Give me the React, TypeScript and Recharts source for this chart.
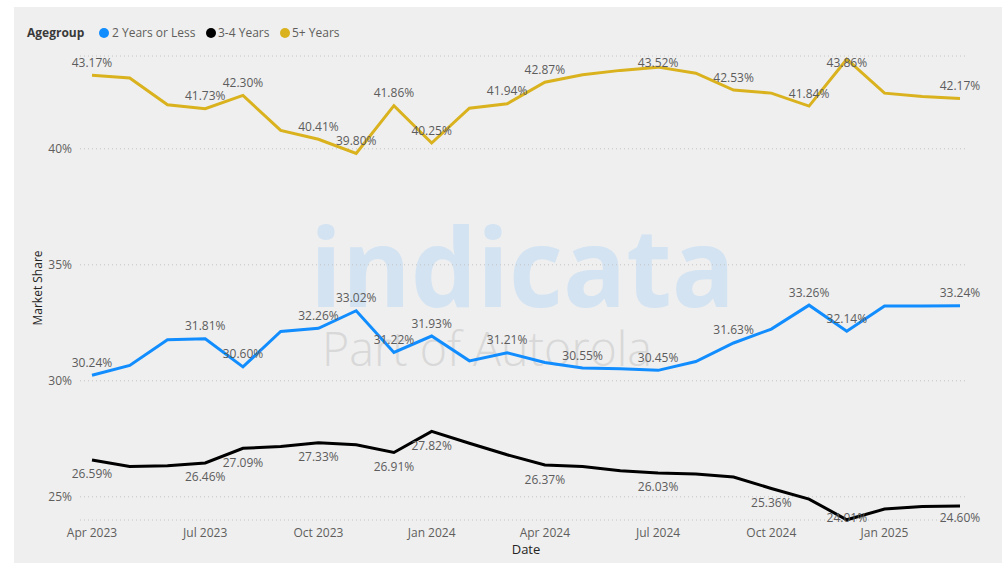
import React from 'react';
import { LineChart, Line, XAxis, YAxis, CartesianGrid, LabelList } from 'recharts';

const months = [
  'Apr 2023', 'May 2023', 'Jun 2023', 'Jul 2023', 'Aug 2023', 'Sep 2023',
  'Oct 2023', 'Nov 2023', 'Dec 2023', 'Jan 2024', 'Feb 2024', 'Mar 2024',
  'Apr 2024', 'May 2024', 'Jun 2024', 'Jul 2024', 'Aug 2024', 'Sep 2024',
  'Oct 2024', 'Nov 2024', 'Dec 2024', 'Jan 2025', 'Feb 2025', 'Mar 2025',
];

const upTo2Years = [
  30.24, 30.66, 31.77, 31.81, 30.6, 32.13, 32.26, 33.02, 31.22, 31.93, 30.86, 31.21,
  30.79, 30.55, 30.52, 30.45, 30.83, 31.63, 32.23, 33.26, 32.14, 33.22, 33.22, 33.24,
];

const threeTo4Years = [
  26.59, 26.31, 26.34, 26.46, 27.09, 27.17, 27.33, 27.24, 26.91, 27.82, 27.31, 26.81,
  26.37, 26.31, 26.12, 26.03, 25.98, 25.85, 25.36, 24.9, 24.01, 24.47, 24.58, 24.6,
];

const fivePlusYears = [
  43.17, 43.05, 41.9, 41.73, 42.3, 40.79, 40.41, 39.8, 41.86, 40.25, 41.75, 41.94,
  42.87, 43.19, 43.38, 43.52, 43.26, 42.53, 42.4, 41.84, 43.86, 42.4, 42.25, 42.17,
];

// which points carry a data label in the original
const upTo2Labelled = [0, 3, 4, 6, 7, 8, 9, 11, 13, 15, 17, 19, 20, 23];
const threeTo4Labelled = [0, 3, 4, 6, 8, 9, 12, 15, 18, 20, 23];
const fivePlusLabelled = [0, 3, 4, 6, 7, 8, 9, 11, 12, 15, 17, 19, 20, 23];

const yTicks = [25, 30, 35, 40];

const data = months.map((m, i) => ({
  month: m,
  upTo2: upTo2Years[i],
  threeTo4: threeTo4Years[i],
  fivePlus: fivePlusYears[i],
}));

const FONT = "'Open Sans', 'Noto Sans', 'DejaVu Sans', sans-serif";

// labels are kept inside the plot band, like Power BI does near the edges
const LABEL_MIN_Y = 62;
const LABEL_MAX_Y = 517;

const makeLabel = (labelled: number[], dy: number) => (props: any) => {
  const { x, y, value, index } = props;
  if (!labelled.includes(index) || value == null) return null;
  const ly = Math.max(LABEL_MIN_Y, Math.min(LABEL_MAX_Y, y + dy));
  return (
    <text
      x={x}
      y={ly}
      textAnchor="middle"
      dominantBaseline="central"
      fontSize={12}
      fontFamily={FONT}
      fill="#5c5c5c"
    >
      {Number(value).toFixed(2)}%
    </text>
  );
};

const legendItems = [
  { name: '2 Years or Less', color: '#118DFF', dot: 104, text: 112 },
  { name: '3-4 Years', color: '#000000', dot: 211, text: 218 },
  { name: '5+ Years', color: '#D9B21E', dot: 285, text: 292 },
];

export default function App() {
  return (
    <div
      style={{
        position: 'absolute',
        left: 0,
        top: 0,
        width: 1002,
        height: 570,
        background: '#ffffff',
        overflow: 'hidden',
        fontFamily: FONT,
      }}
    >
      <div style={{ position: 'absolute', left: 14, top: 7, right: 0, bottom: 7, background: '#efefef' }} />

      {/* watermark */}
      <svg width={1002} height={570} style={{ position: 'absolute', left: 0, top: 0 }}>
        <text
          x={310}
          y={307}
          fontSize={110}
          fontWeight={700}
          fontFamily={FONT}
          fill="#d3e3f2"
          textLength={425}
          lengthAdjust="spacingAndGlyphs"
        >
          indicata
        </text>
        <text
          x={322}
          y={366}
          fontSize={48}
          fontWeight={300}
          fontFamily={FONT}
          fill="#d8d8d8"
          textLength={330}
          lengthAdjust="spacingAndGlyphs"
        >
          Part of Autorola
        </text>
      </svg>

      {/* legend */}
      <div
        style={{
          position: 'absolute',
          left: 27,
          top: 24,
          fontSize: 12,
          fontWeight: 700,
          color: '#3a3a3a',
          lineHeight: '18px',
        }}
      >
        Agegroup
      </div>
      {legendItems.map((it) => (
        <React.Fragment key={it.name}>
          <div
            style={{
              position: 'absolute',
              left: it.dot - 5,
              top: 28,
              width: 10,
              height: 10,
              borderRadius: 5,
              background: it.color,
            }}
          />
          <div
            style={{
              position: 'absolute',
              left: it.text,
              top: 24,
              fontSize: 12,
              color: '#605e5c',
              lineHeight: '18px',
              whiteSpace: 'nowrap',
            }}
          >
            {it.name}
          </div>
        </React.Fragment>
      ))}

      {/* axis titles */}
      <div
        style={{
          position: 'absolute',
          left: 37,
          top: 288,
          transform: 'translate(-50%, -50%) rotate(-90deg)',
          fontSize: 12,
          color: '#252423',
          whiteSpace: 'nowrap',
        }}
      >
        Market Share
      </div>
      <div
        style={{
          position: 'absolute',
          left: 526,
          top: 549,
          transform: 'translate(-50%, -50%)',
          fontSize: 13,
          color: '#252423',
        }}
      >
        Date
      </div>

      <LineChart
        width={1002}
        height={570}
        data={data}
        margin={{ top: 56, right: 37, bottom: 20, left: 20 }}
        style={{ position: 'absolute', left: 0, top: 0, fontFamily: FONT }}
      >
        <CartesianGrid vertical={false} stroke="#c4c4c4" strokeDasharray="1 3" />
        <XAxis
          dataKey="month"
          interval={2}
          axisLine={false}
          tickLine={false}
          height={30}
          padding={{ left: 12, right: 5 }}
          tick={{ fontSize: 12, fill: '#605e5c' }}
        />
        <YAxis
          domain={[24, 44]}
          ticks={yTicks}
          axisLine={false}
          tickLine={false}
          width={60}
          tickFormatter={(v: number) => `${v}%`}
          tick={{ fontSize: 12, fill: '#605e5c' }}
        />
        <Line
          type="linear"
          dataKey="fivePlus"
          stroke="#D9B21E"
          strokeWidth={3}
          dot={false}
          activeDot={false}
          isAnimationActive={false}
        >
          <LabelList dataKey="fivePlus" content={makeLabel(fivePlusLabelled, -13)} />
        </Line>
        <Line
          type="linear"
          dataKey="upTo2"
          stroke="#118DFF"
          strokeWidth={3}
          dot={false}
          activeDot={false}
          isAnimationActive={false}
        >
          <LabelList dataKey="upTo2" content={makeLabel(upTo2Labelled, -13)} />
        </Line>
        <Line
          type="linear"
          dataKey="threeTo4"
          stroke="#000000"
          strokeWidth={3}
          dot={false}
          activeDot={false}
          isAnimationActive={false}
        >
          <LabelList dataKey="threeTo4" content={makeLabel(threeTo4Labelled, 14)} />
        </Line>
      </LineChart>
    </div>
  );
}
